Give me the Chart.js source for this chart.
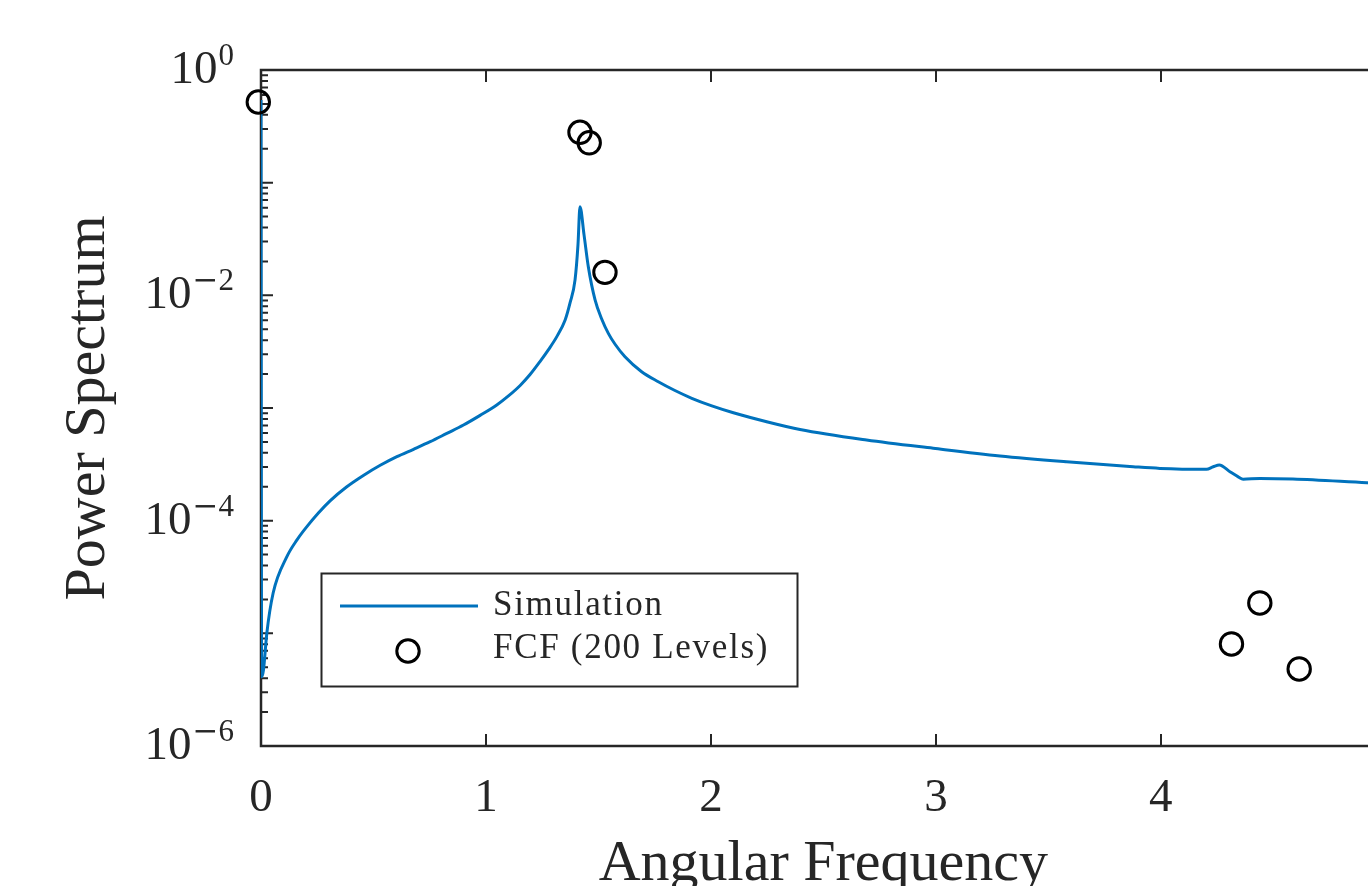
<!DOCTYPE html>
<html>
<head>
<meta charset="utf-8">
<script src="https://cdn.jsdelivr.net/npm/chart.js@4.4.1/dist/chart.umd.min.js"></script>
<style>
  html, body { margin: 0; padding: 0; background: #ffffff; overflow: hidden; width: 1368px; height: 886px; }
  #wrap { width: 1400px; height: 886px; position: relative; }
</style>
</head>
<body>
<div id="wrap"><canvas id="c" width="1400" height="886"></canvas></div>
<script>
// ---- data ----
const omegaSim = [0, 0.003, 0.011, 0.026, 0.054, 0.115, 0.160, 0.204, 0.255, 0.307, 0.380, 0.455, 0.530,
  0.604, 0.678, 0.752, 0.826, 0.900, 0.974, 1.048, 1.100, 1.152, 1.196, 1.240, 1.278, 1.315, 1.352,
  1.374, 1.396, 1.409, 1.418, 1.436, 1.455, 1.485, 1.514, 1.544, 1.574, 1.618, 1.692, 1.766, 1.840,
  1.915, 2.004, 2.100, 2.248, 2.396, 2.692, 2.988, 3.285, 3.581, 3.877, 3.996, 4.203, 4.233, 4.260,
  4.307, 4.344, 4.366, 4.440, 4.587, 4.915, 5.0];
const powerSim = [0.542, 4.12e-6, 4.73e-6, 1.007e-5, 2.28e-5, 4.79e-5, 6.75e-5, 8.85e-5, 1.17e-4,
  1.50e-4, 1.99e-4, 2.52e-4, 3.10e-4, 3.70e-4, 4.30e-4, 5.02e-4, 5.95e-4, 7.06e-4, 8.60e-4,
  1.064e-3, 1.28e-3, 1.585e-3, 1.98e-3, 2.58e-3, 3.30e-3, 4.30e-3, 6.04e-3, 8.60e-3, 1.37e-2,
  2.80e-2, 6.12e-2, 3.44e-2, 1.79e-2, 9.10e-3, 6.20e-3, 4.60e-3, 3.68e-3, 2.85e-3, 2.10e-3,
  1.71e-3, 1.43e-3, 1.22e-3, 1.045e-3, 9.08e-4, 7.56e-4, 6.45e-4, 5.20e-4, 4.39e-4, 3.75e-4,
  3.33e-4, 3.01e-4, 2.91e-4, 2.86e-4, 3.01e-4, 3.12e-4, 2.72e-4, 2.45e-4, 2.33e-4, 2.37e-4,
  2.34e-4, 2.17e-4, 2.13e-4];
const omegaFCF = [-0.012, 1.418, 1.459, 1.529, 4.314, 4.440, 4.615];
const powerFCF = [0.52, 0.28, 0.226, 0.016, 8.05e-6, 1.86e-5, 4.83e-6];

const seriesLabels = ['Simulation', 'FCF (200 Levels)'];
const xTickValues = [0, 1, 2, 3, 4, 5];
const xTickLabels = ['0', '1', '2', '3', '4', '5'];
const yTickExponents = [0, -2, -4, -6];
const yOddExponents = [-1, -3, -5];
const yMinorDecades = [-6, -5, -4, -3, -2, -1];
const yMinorMultipliers = [2, 3, 4, 5, 6, 7, 8, 9];
const xTitle = 'Angular Frequency';
const yTitle = 'Power Spectrum';

const X_MIN = 0, X_MAX = 5, Y_MIN = 1e-6, Y_MAX = 1;
const AX = '#262626';
const BLUE = '#0072BD';
const FONT = '"Liberation Serif", "Times New Roman", serif';

const simData = omegaSim.map((x, i) => ({ x: x, y: powerSim[i] }));
const fcfData = omegaFCF.map((x, i) => ({ x: x, y: powerFCF[i] }));

const matlabAxes = {
  id: 'matlabAxes',
  beforeDatasetsDraw(chart) {
    const ctx = chart.ctx;
    const { left, right, top, bottom } = chart.chartArea;
    const xs = chart.scales.x, ys = chart.scales.y;
    ctx.save();
    ctx.strokeStyle = AX;
    ctx.lineWidth = 2.5;
    ctx.strokeRect(left, top, right - left, bottom - top);
    ctx.lineWidth = 2;
    ctx.beginPath();
    xTickValues.forEach(v => {
      const px = Math.round(xs.getPixelForValue(v));
      ctx.moveTo(px, bottom); ctx.lineTo(px, bottom - 12);
      ctx.moveTo(px, top); ctx.lineTo(px, top + 12);
    });
    yTickExponents.concat(yOddExponents).forEach(e => {
      const py = ys.getPixelForValue(Math.pow(10, e));
      ctx.moveTo(left, py); ctx.lineTo(left + 12, py);
      ctx.moveTo(right, py); ctx.lineTo(right - 12, py);
    });
    yMinorDecades.forEach(d => {
      yMinorMultipliers.forEach(m => {
        const py = ys.getPixelForValue(m * Math.pow(10, d));
        ctx.moveTo(left, py); ctx.lineTo(left + 7, py);
        ctx.moveTo(right, py); ctx.lineTo(right - 7, py);
      });
    });
    ctx.stroke();
    ctx.restore();
  },
  afterDraw(chart) {
    const ctx = chart.ctx;
    const { left, right, top, bottom } = chart.chartArea;
    const xs = chart.scales.x, ys = chart.scales.y;
    ctx.save();
    ctx.fillStyle = AX;
    ctx.textBaseline = 'alphabetic';
    // x tick labels
    ctx.font = '47px ' + FONT;
    ctx.textAlign = 'center';
    xTickValues.forEach((v, i) => {
      ctx.fillText(xTickLabels[i], xs.getPixelForValue(v), bottom + 65);
    });
    // y tick labels 10^e
    const R = 234;
    yTickExponents.forEach(e => {
      const py = ys.getPixelForValue(Math.pow(10, e));
      const digits = String(Math.abs(e));
      ctx.textAlign = 'left';
      ctx.font = '31px ' + FONT;
      const wd = ctx.measureText(digits).width;
      let we = wd;
      if (e < 0) {
        ctx.font = '31px "DejaVu Serif", serif';
        const wm = ctx.measureText('\u2212').width;
        we = wd + wm;
        ctx.fillText('\u2212', R - we, py - 5);
        ctx.font = '31px ' + FONT;
      }
      ctx.fillText(digits, R - wd, py - 5);
      ctx.font = '47px ' + FONT;
      ctx.textAlign = 'right';
      ctx.fillText('10', R - we - 1, py + 13);
    });
    // axis titles
    ctx.font = '58px ' + FONT;
    ctx.textAlign = 'center';
    ctx.fillText(xTitle, (left + right) / 2, 880);
    ctx.save();
    ctx.translate(104, (top + bottom) / 2);
    ctx.rotate(-Math.PI / 2);
    ctx.fillText(yTitle, 0, 0);
    ctx.restore();
    // legend
    const bx = 321.5, by = 573.5, bw = 476, bh = 113;
    ctx.fillStyle = '#ffffff';
    ctx.fillRect(bx, by, bw, bh);
    ctx.strokeStyle = AX;
    ctx.lineWidth = 2;
    ctx.strokeRect(bx, by, bw, bh);
    const ds0 = chart.data.datasets[0], ds1 = chart.data.datasets[1];
    ctx.strokeStyle = ds0.borderColor;
    ctx.lineWidth = ds0.borderWidth;
    ctx.beginPath();
    ctx.moveTo(340, 606); ctx.lineTo(478, 606);
    ctx.stroke();
    ctx.strokeStyle = ds1.borderColor;
    ctx.lineWidth = ds1.borderWidth;
    ctx.beginPath();
    ctx.arc(408, 651, ds1.pointRadius, 0, Math.PI * 2);
    ctx.stroke();
    ctx.fillStyle = AX;
    ctx.font = '35px ' + FONT;
    ctx.textAlign = 'left';
    try { ctx.letterSpacing = '1.7px'; } catch (err) {}
    ctx.fillText(ds0.label, 493, 615);
    ctx.fillText(ds1.label, 493, 658);
    try { ctx.letterSpacing = '0px'; } catch (err) {}
    ctx.restore();
  }
};

new Chart(document.getElementById('c'), {
  type: 'scatter',
  data: {
    datasets: [
      {
        label: seriesLabels[0],
        data: simData,
        showLine: true,
        borderColor: BLUE,
        backgroundColor: BLUE,
        borderWidth: 3,
        pointRadius: 0,
        pointHoverRadius: 0,
        cubicInterpolationMode: 'monotone',
        order: 2
      },
      {
        label: seriesLabels[1],
        data: fcfData,
        showLine: false,
        borderColor: '#000000',
        backgroundColor: 'rgba(0,0,0,0)',
        borderWidth: 3,
        pointRadius: 11.2,
        pointHoverRadius: 11.2,
        pointStyle: 'circle',
        clip: false,
        order: 1
      }
    ]
  },
  options: {
    responsive: false,
    animation: false,
    devicePixelRatio: 1,
    events: [],
    layout: { padding: { top: 70, right: 14, left: 0, bottom: 0 } },
    plugins: { legend: { display: false }, tooltip: { enabled: false }, title: { display: false } },
    scales: {
      x: {
        type: 'linear', min: X_MIN, max: X_MAX,
        grid: { display: false }, border: { display: false },
        ticks: { display: false },
        afterFit: s => { s.height = 140; }
      },
      y: {
        type: 'logarithmic', min: Y_MIN, max: Y_MAX,
        grid: { display: false }, border: { display: false },
        ticks: { display: false },
        afterFit: s => { s.width = 261; }
      }
    }
  },
  plugins: [matlabAxes]
});
</script>
</body>
</html>
